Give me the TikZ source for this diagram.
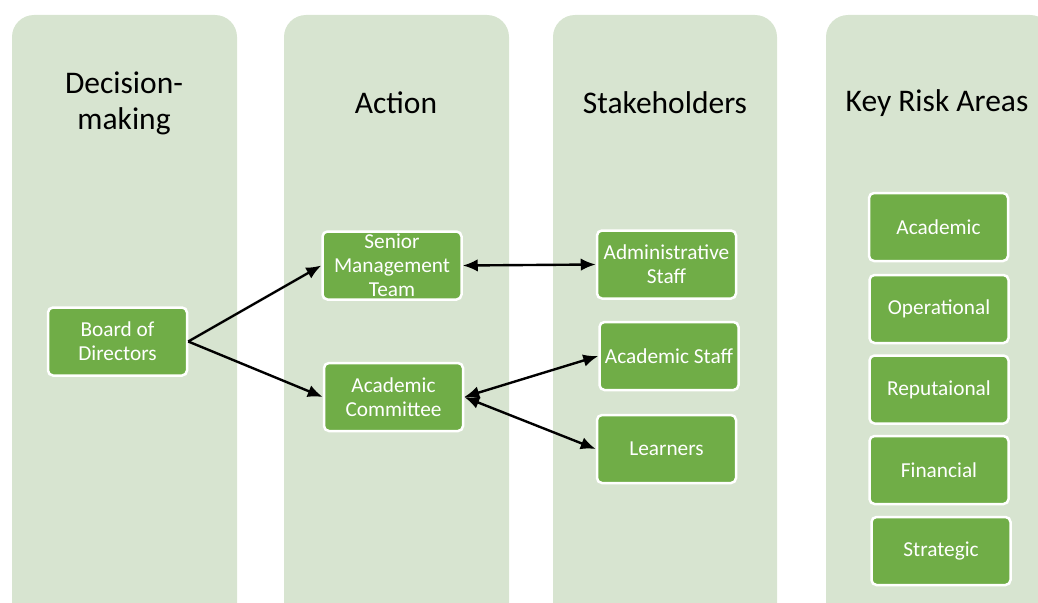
\documentclass[tikz,border=0pt]{standalone}
\usepackage{fontspec}
\setmainfont{Carlito}
\usepackage{xcolor}
\usetikzlibrary{arrows.meta, positioning}
\definecolor{lanebg}{HTML}{D7E4D0}
\definecolor{boxgreen}{HTML}{70AD47}

\begin{document}
\begin{tikzpicture}[x=1pt, y=-1pt, >={Latex[length=15pt,width=12.5pt]},
    lane/.style={fill=lanebg, draw=none, rounded corners=22pt},
    title/.style={font=\fontsize{31.5}{36}\selectfont, align=center},
    item/.style={draw=white, line width=2.5pt, fill=boxgreen, rounded corners=5pt, text=white,
        minimum width=139pt, minimum height=68pt, inner sep=2pt, align=center,
        font=\fontsize{21.3}{24}\selectfont},
    link/.style={line width=2.4pt}]
    \useasboundingbox (0,0) rectangle (1038,602);
    \clip (0,0) rectangle (1038,602);

    % Spalten
    \fill[lane] (12,15) rectangle (237,640);
    \fill[lane] (284,15) rectangle (509,640);
    \fill[lane] (553,15) rectangle (777,640);
    \fill[lane] (826,15) rectangle (1052,640);

    % Titel
    \node[title] (tdec) at (124,103) {Decision-\\making};
    \node[title] (tact) at (396,103) {Action};
    \node[title] (tsta) at (665,103) {Stakeholders};
    \node[title] (trisk) at (937,103) {Key Risk Areas};

    % Entscheidung
    \node[item] (board) at (117.5,341.5) {Board of\\Directors};

    % Handlung
    \node[item] (smt) at (392,265.5) {Senior\\Management\\Team};
    \node[item] (acom) at (393.5,397) {Academic\\Committee};

    % Beteiligte
    \node[item] (admin) at (666.5,264.5) {Administrative\\Staff};
    \node[item] (astaff) at (669,356) {Academic Staff};
    \node[item] (learn) at (666.5,449) {Learners};

    % Risikobereiche
    \node[item] (r1) at (938.5,227) {Academic};
    \node[item] (r2) at (939,309) {Operational};
    \node[item] (r3) at (939,389.5) {Reputaional};
    \node[item] (r4) at (939,470) {Financial};
    \node[item] (r5) at (941,551) {Strategic};

    % Pfeile
    \draw[link, ->] (board.east) -- (smt.west);
    \draw[link, ->] (board.east) -- (acom.west);
    \draw[link, <->] (smt.east) -- (admin.west);
    \draw[link, <->] (acom.east) -- (astaff.west);
    \draw[link, <->] (acom.east) -- (learn.west);
\end{tikzpicture}
\end{document}
